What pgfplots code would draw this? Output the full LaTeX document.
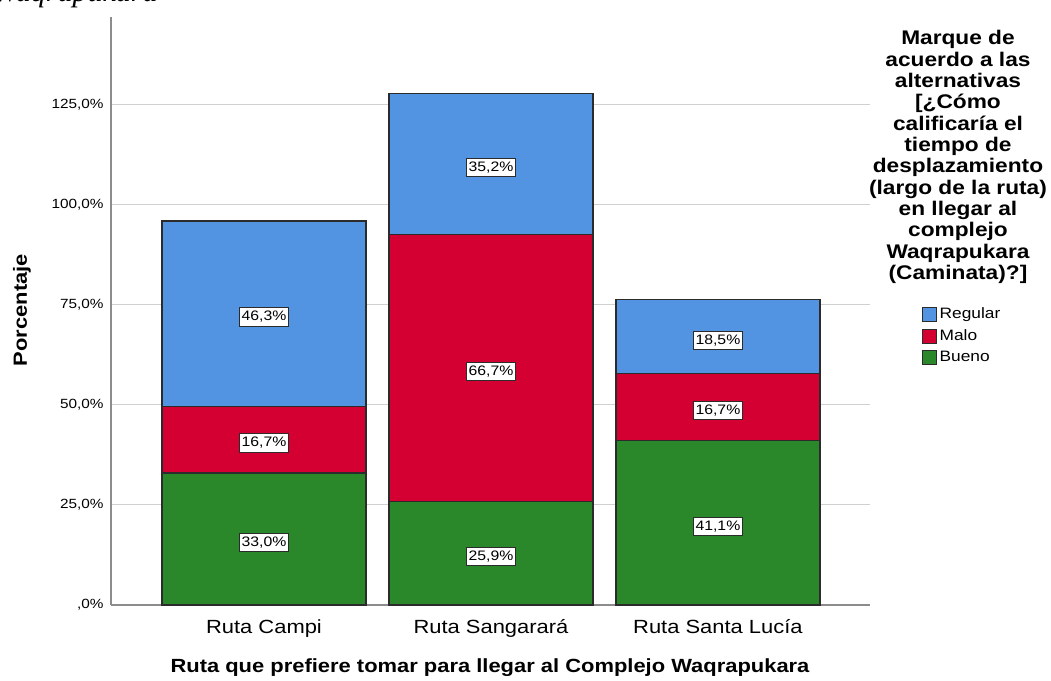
\documentclass[border=0pt]{standalone}
\usepackage{pgfplots}
\pgfplotsset{compat=1.18}
\usepackage{fontspec}
\setmainfont{Liberation Sans}[FakeStretch=1.15]
\newfontfamily\serifit{Liberation Serif}
\definecolor{cReg}{HTML}{5394E2}
\definecolor{cMal}{HTML}{D50032}
\definecolor{cBue}{HTML}{2A882A}
\definecolor{gridc}{HTML}{D0D0D0}
\definecolor{axc}{HTML}{8C8C8C}
\definecolor{edge}{HTML}{2B2B2B}
\pgfplotsset{
  base/.style={at={(83.25pt,57pt)}, anchor=south west, scale only axis,
    width=569.25pt, height=441pt, xmin=-0.674, xmax=2.67, ymin=0, ymax=147, clip=false},
}
\begin{document}
\begin{tikzpicture}
\path[use as bounding box] (0,0) rectangle (788.25pt,510.75pt);
\node[anchor=base west, font=\fontsize{22.5}{26}\selectfont\serifit\itshape, inner sep=0] at (-5pt,509.5pt) {Waqrapukara};
\begin{axis}[base,
  ybar stacked, bar width=153pt,
  xtick={0,1,2}, xticklabels={Ruta Campi, Ruta Sangarará, Ruta Santa Lucía},
  ytick={0,25,50,75,100,125},
  yticklabels={{,0\%},{25,0\%},{50,0\%},{75,0\%},{100,0\%},{125,0\%}},
  axis x line*=bottom, axis y line*=left,
  axis line style={axc, line width=1.1pt},
  ymajorgrids, grid style={gridc, line width=0.75pt},
  major tick length=0pt,
  xticklabel style={font=\fontsize{14.3}{16}\selectfont, yshift=-7.5pt},
  yticklabel style={font=\fontsize{10}{12}\selectfont, xshift=-2pt},
  reverse legend,
  legend style={at={(rel axis cs:1.068,0.51)}, anchor=north west, draw=none, fill=none,
    font=\fontsize{11.3}{13}\selectfont, row sep=2.5pt, inner sep=0pt, legend cell align=left},
  legend image code/.code={\draw[#1, draw=edge, line width=0.8pt] (0pt,-5.25pt) rectangle (10.5pt,5.25pt);},
]
\addplot[fill=cBue, draw=edge, line width=1pt] coordinates {(0,33.0) (1,25.9) (2,41.1)};
\addplot[fill=cMal, draw=edge, line width=1pt] coordinates {(0,16.7) (1,66.7) (2,16.7)};
\addplot[fill=cReg, draw=edge, line width=1pt] coordinates {(0,46.3) (1,35.2) (2,18.5)};
\legend{Bueno, Malo, Regular}
\end{axis}
\begin{axis}[base, hide axis]
\addplot[only marks, mark=none, nodes near coords, point meta=explicit symbolic,
  nodes near coords align=center,
  every node near coord/.append style={anchor=center, yshift=-2.6pt, fill=white, draw=edge, line width=0.7pt,
    font=\fontsize{10.3}{12}\selectfont, inner xsep=1.5pt, inner ysep=2.7pt}]
coordinates {
 (0,16.5) [33,0\%] (0,41.35) [16,7\%] (0,72.85) [46,3\%]
 (1,12.95) [25,9\%] (1,59.25) [66,7\%] (1,110.2) [35,2\%]
 (2,20.55) [41,1\%] (2,49.45) [16,7\%] (2,67.05) [18,5\%]
};
\end{axis}
\node[font=\fontsize{14.8}{16}\selectfont\bfseries, align=center] at (718.5pt,393pt)
 {Marque de\\acuerdo a las\\alternativas\\{[}¿Cómo\\calificaría el\\tiempo de\\desplazamiento\\(largo de la ruta)\\en llegar al\\complejo\\Waqrapukara\\(Caminata)?]};
\node[rotate=90, font=\fontsize{14.3}{16}\selectfont\bfseries] at (16.5pt,278.25pt) {Porcentaje};
\node[font=\fontsize{14.3}{16}\selectfont\bfseries] at (367.5pt,9.75pt) {Ruta que prefiere tomar para llegar al Complejo Waqrapukara};
\end{tikzpicture}
\end{document}
